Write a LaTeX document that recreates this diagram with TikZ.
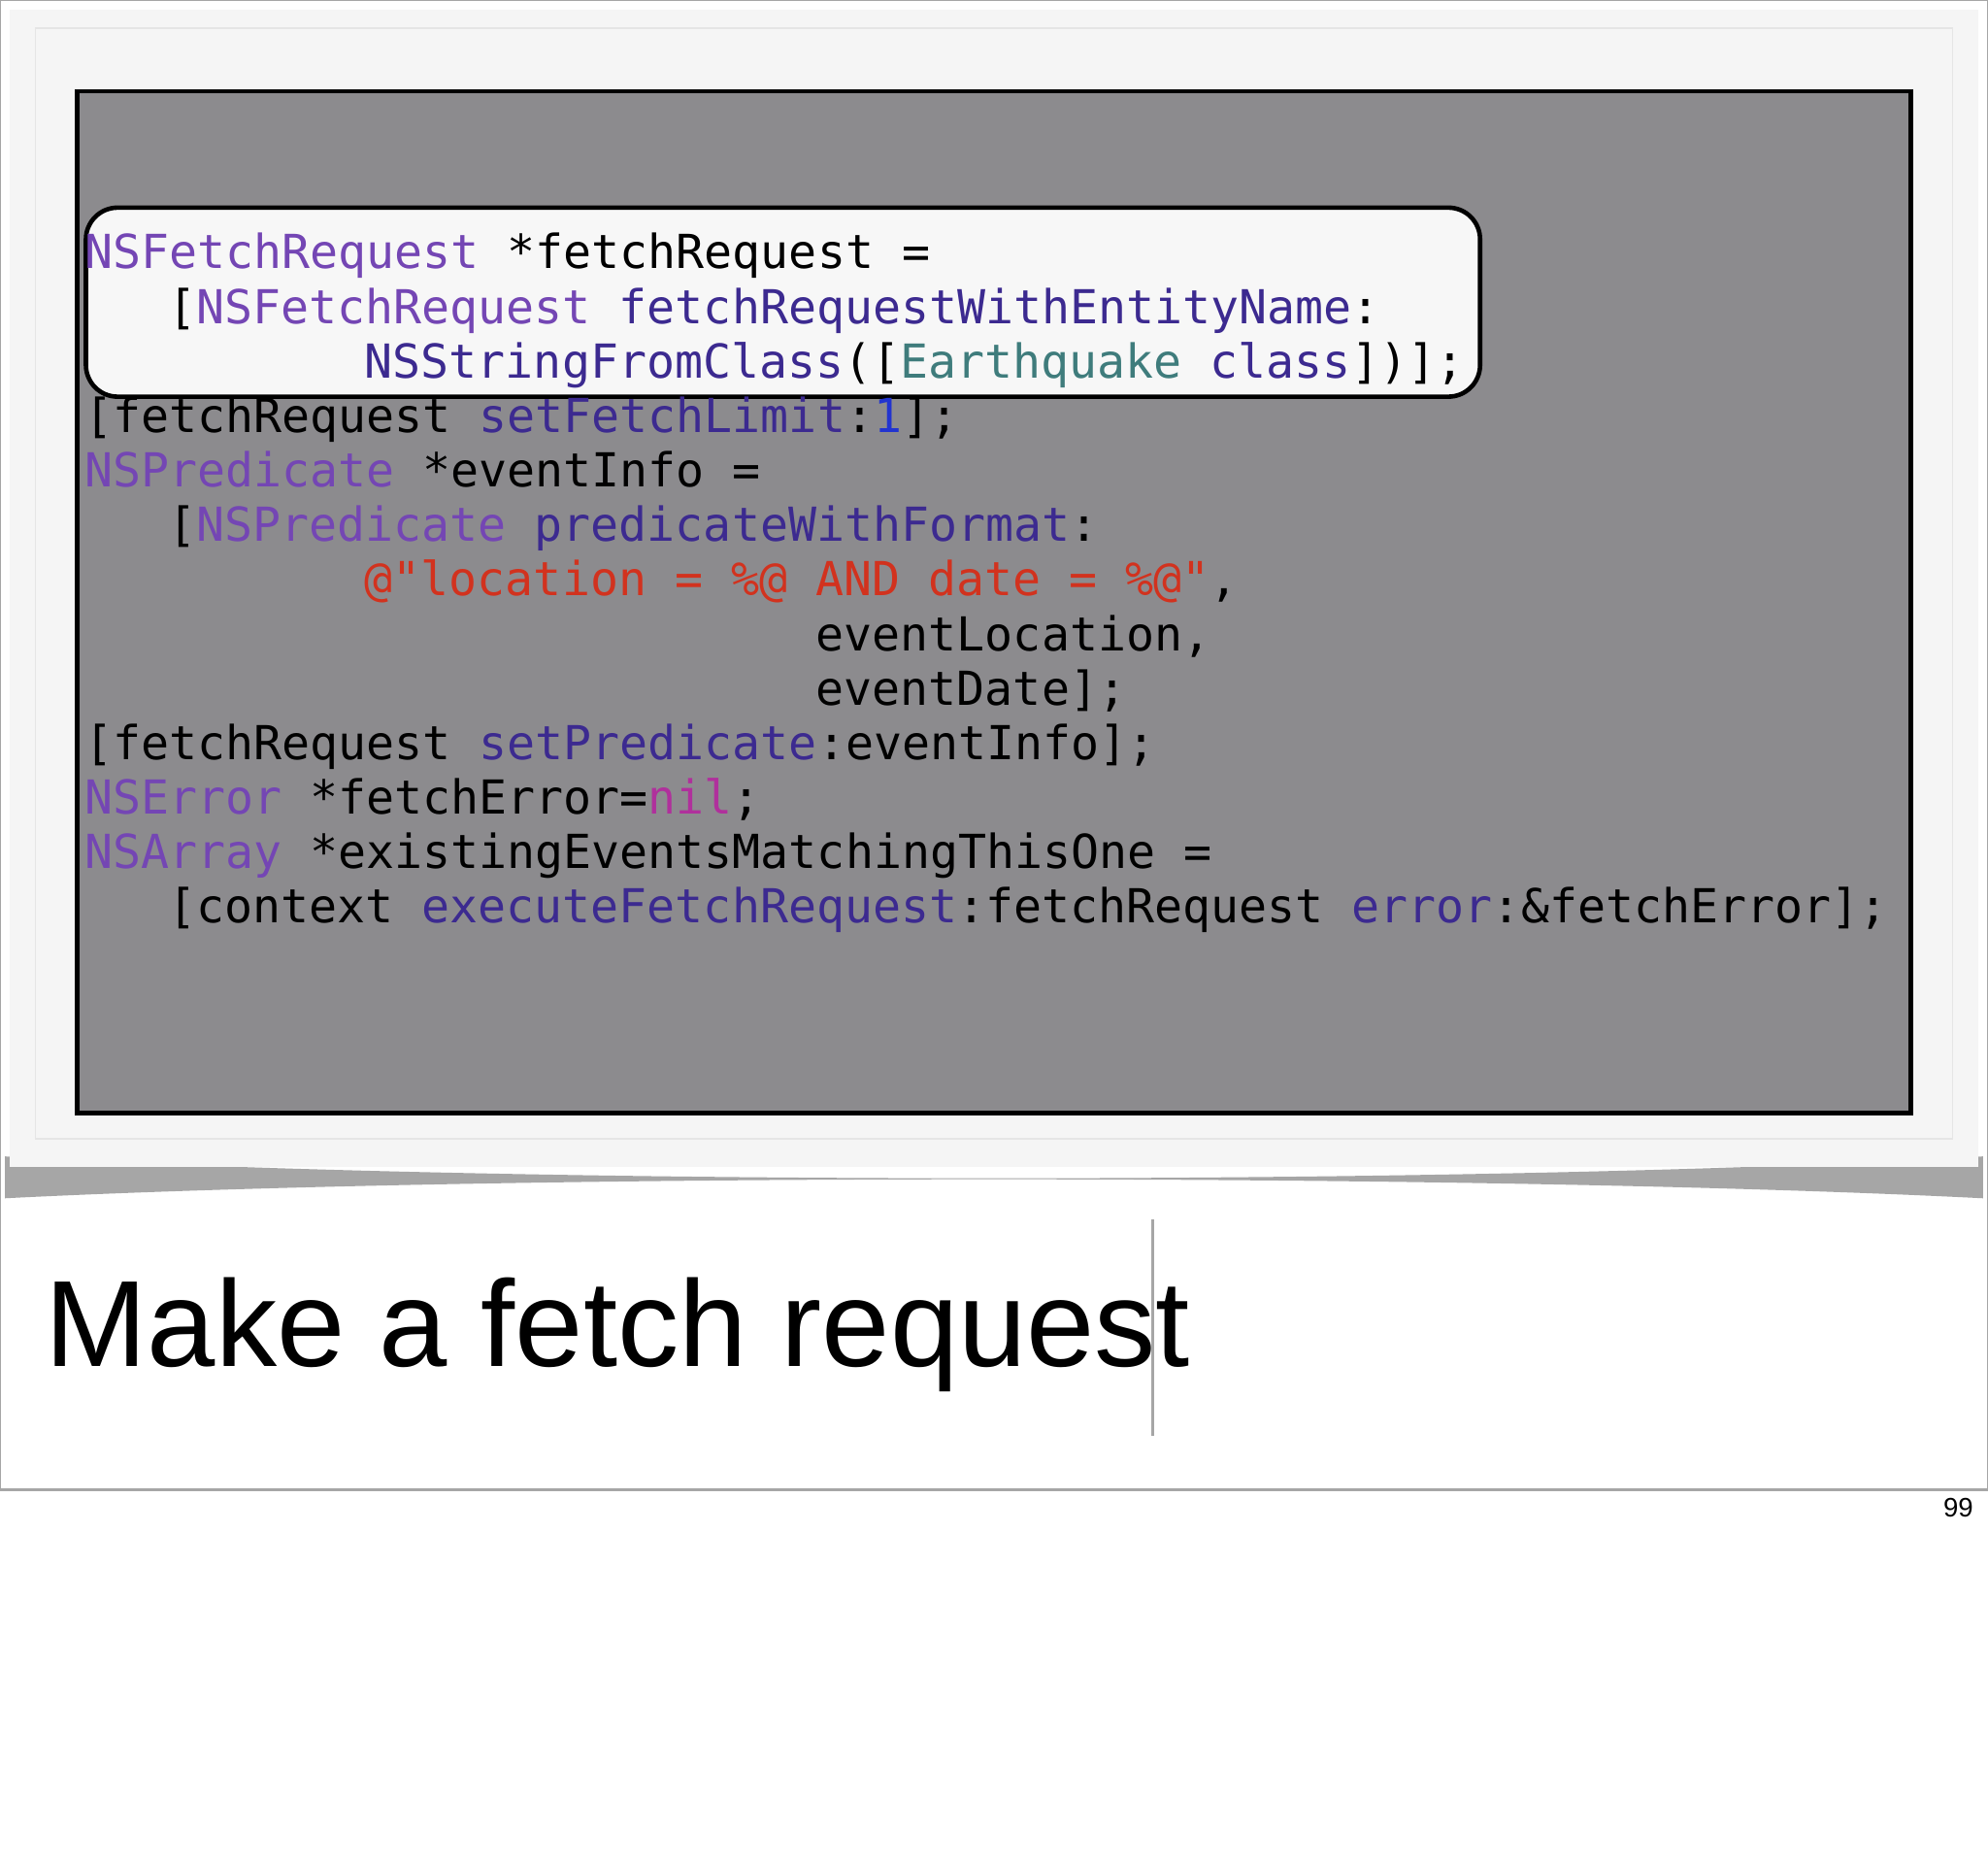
\documentclass[tikz,border=0pt]{standalone}
\usepackage{fontspec}
\setmainfont{Liberation Sans}
\setmonofont{DejaVu Sans Mono}
\definecolor{cls}{HTML}{7446B4}
\definecolor{mth}{HTML}{3C2A90}
\definecolor{tea}{HTML}{3F7C7C}
\definecolor{str}{HTML}{D2321E}
\definecolor{num}{HTML}{2234D0}
\definecolor{nl}{HTML}{B0309C}
\definecolor{slate}{HTML}{8C8B8E}
\begin{document}
\begin{tikzpicture}[x=0.01cm,y=-0.01cm,
  code/.style={anchor=base west,inner sep=0pt,font=\fontsize{10.5}{12}\ttfamily}]
\useasboundingbox (0,0) rectangle (1568,1470);
\fill[white] (0,0) rectangle (1568,1470);
\draw[gray!70,line width=0.6pt] (0,0) rectangle (1568,1175);
% shadow
\fill[black!35] (4,912) .. controls (400,935) and (1168,935) .. (1564,912) -- (1564,945) .. controls (1168,925) and (400,925) .. (4,945) -- cycle;
\fill[gray!8] (8,8) rectangle (1560,920);
\draw[gray!20] (28,22) rectangle (1540,898);
\draw[black,line width=1pt,fill=slate] (61,72) rectangle (1507,878);
\node[draw=black,line width=1pt,fill=gray!6,rounded corners=0.25cm,minimum width=10.99cm,minimum height=1.49cm,anchor=north west,inner sep=0pt] (hl) at (66,162) {};
\def\X#1{\numexpr66+22*#1\relax}
\node[code] (l1) at (66,212) {\textcolor{cls}{NSFetchRequest} *fetchRequest =};
\node[code] (l2) at (132,255) {[\textcolor{cls}{NSFetchRequest} \textcolor{mth}{fetchRequestWithEntityName}:};
\node[code] (l3) at (287,298) {\textcolor{mth}{NSStringFromClass}([\textcolor{tea}{Earthquake} \textcolor{mth}{class}])];};
\node[code] (l4) at (66,341) {[fetchRequest \textcolor{mth}{setFetchLimit}:\textcolor{num}{1}];};
\node[code] (l5) at (66,384) {\textcolor{cls}{NSPredicate} *eventInfo =};
\node[code] (l6) at (132,427) {[\textcolor{cls}{NSPredicate} \textcolor{mth}{predicateWithFormat}:};
\node[code] (l7) at (287,470) {\textcolor{str}{@"location = \%@ AND date = \%@"},};
\node[code] (l8) at (643,513) {eventLocation,};
\node[code] (l9) at (643,556) {eventDate];};
\node[code] (l10) at (66,599) {[fetchRequest \textcolor{mth}{setPredicate}:eventInfo];};
\node[code] (l11) at (66,642) {\textcolor{cls}{NSError} *fetchError=\textcolor{nl}{nil};};
\node[code] (l12) at (66,685) {\textcolor{cls}{NSArray} *existingEventsMatchingThisOne =};
\node[code] (l13) at (132,728) {[context \textcolor{mth}{executeFetchRequest}:fetchRequest \textcolor{mth}{error}:\&fetchError];};
\node[anchor=base west,inner sep=0pt,font=\fontsize{27.5}{30}\selectfont] (title) at (35,1078) {Make a fetch request};
\draw[gray!70,line width=0.6pt] (909,962) -- (909,1132);
\node[anchor=base east,inner sep=0pt,font=\fontsize{6}{7}\selectfont] (pg) at (1557,1196) {99};
\end{tikzpicture}
\end{document}
